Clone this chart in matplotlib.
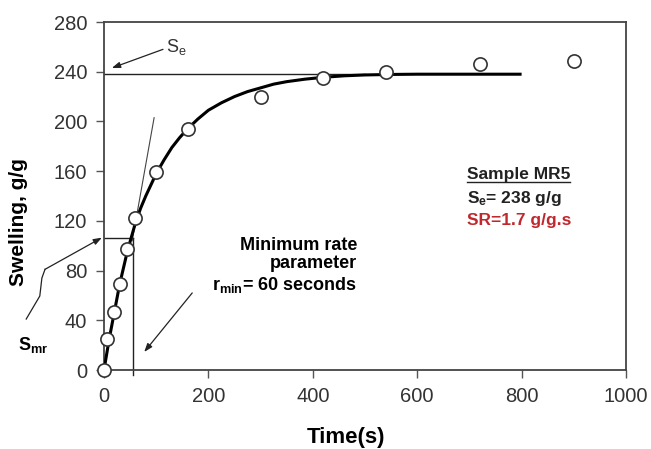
import matplotlib
matplotlib.use("Agg")
import matplotlib.pyplot as plt
import numpy as np

plt.rcParams['font.family'] = ['Liberation Sans', 'DejaVu Sans']
plt.rcParams['mathtext.default'] = 'regular'

# measured swelling data (open circles)
time_s = [0, 5, 20, 30, 45, 60, 100, 160, 300, 420, 540, 720, 900]
swelling = [0, 25, 47, 69, 97, 122, 159, 194, 220, 235, 240, 246, 249]

# fitted curve
fit_t = [0, 10, 20, 30, 45, 60, 70, 80, 90, 100, 115, 130, 145, 160, 180, 200, 225, 250,
         275, 300, 325, 350, 385, 420, 460, 500, 550, 600, 800]
fit_s = [0, 25, 47, 69, 96, 118, 130, 140, 149, 158, 169, 179, 187, 194, 202, 209, 215, 220,
         224, 227, 230, 232, 234, 235.5, 236.7, 237.4, 237.8, 238, 238]

Se = 238
S_mr = 106.5
r_min = 56
tangent_t = [54, 96]
tangent_s = [104, 203]

fig = plt.figure(figsize=(6.51, 4.49), dpi=100)
ax = fig.add_axes([104/651, 1-370/449, 522/651, 348/449])

ax.set_xlim(0, 1000)
ax.set_ylim(0, 280)
ax.set_xticks([0, 200, 400, 600, 800, 1000])
ax.set_yticks([0, 40, 80, 120, 160, 200, 240, 280])
ax.tick_params(direction='out', length=6, width=1, colors='#555555', labelcolor='#333333',
               labelsize=14.5, pad=6)
for sp in ax.spines.values():
    sp.set_color('#444444')
    sp.set_linewidth(1.3)

# thin reference lines
ax.plot([0, 500], [Se, Se], color='#222222', lw=1.0, zorder=2)
ax.plot([0, r_min], [S_mr, S_mr], color='#222222', lw=1.0, zorder=2)
ax.plot([r_min, r_min], [-4, S_mr], color='#222222', lw=1.0, zorder=2, clip_on=False)
ax.plot(tangent_t, tangent_s, color='#444444', lw=0.8, zorder=2)

# fitted curve
ax.plot(fit_t, fit_s, color='black', lw=2.2, zorder=3, solid_capstyle='butt',
        solid_joinstyle='round')

# data points
ax.plot(time_s, swelling, linestyle='none', marker='o', markersize=9.5,
        markerfacecolor='white', markeredgecolor='#333333', markeredgewidth=1.2,
        zorder=4, clip_on=False)

ax.set_xlabel('Time(s)', fontsize=16, fontweight='bold', va='center', ha='center')
ax.xaxis.set_label_coords(0.464, -(437 - 370) / 348)
ax.set_ylabel('Swelling, g/g', fontsize=15, fontweight='bold', va='center', ha='center')
ax.yaxis.set_label_coords((18 - 104) / 522, 0.425)

arrow_kw = dict(arrowstyle='-|>,head_length=0.5,head_width=0.18', color='#222222', lw=0.9,
                shrinkA=0, shrinkB=0)

# S_e annotation
ax.annotate('', xy=(15, 243), xytext=(113, 258), arrowprops=arrow_kw, annotation_clip=False)
ax.text(118, 260, 'S$_e$', fontsize=13, color='#333333', ha='left', va='center')

# S_mr annotation with kinked leader
kx = [-149, -123, -119, -113]
ky = [41, 59.5, 74, 81]
ax.plot(kx, ky, color='#222222', lw=0.9, clip_on=False)
ax.annotate('', xy=(-4, S_mr), xytext=(-113, 81), arrowprops=arrow_kw, annotation_clip=False)
ax.text(-136, 20, 'S$_{mr}$', fontsize=13, fontweight='bold', ha='center', va='center')

# minimum rate annotation
ax.annotate('', xy=(77, 14.5), xytext=(169, 62), arrowprops=arrow_kw)
ax.text(485, 84, 'Minimum rate\nparameter\nr$_{min}$= 60 seconds', fontsize=13,
        fontweight='bold', ha='right', va='center', linespacing=1.15)

# sample box text
t1 = ax.text(695, 157, 'Sample MR5', fontsize=12.5, fontweight='bold', ha='left', va='center',
             color='#222222')
ax.text(695, 138, 'S$_e$= 238 g/g', fontsize=12.5, fontweight='bold', ha='left', va='center',
        color='#222222')
ax.text(695, 120, 'SR=1.7 g/g.s', fontsize=12.5, fontweight='bold', ha='left', va='center',
        color='#C0282D')

fig.canvas.draw()
bb = t1.get_window_extent().transformed(ax.transData.inverted())
ax.plot([bb.x0, bb.x1], [bb.y0 + 0.5, bb.y0 + 0.5], color='#222222', lw=1.0)

fig.savefig('out.png', dpi=100)
